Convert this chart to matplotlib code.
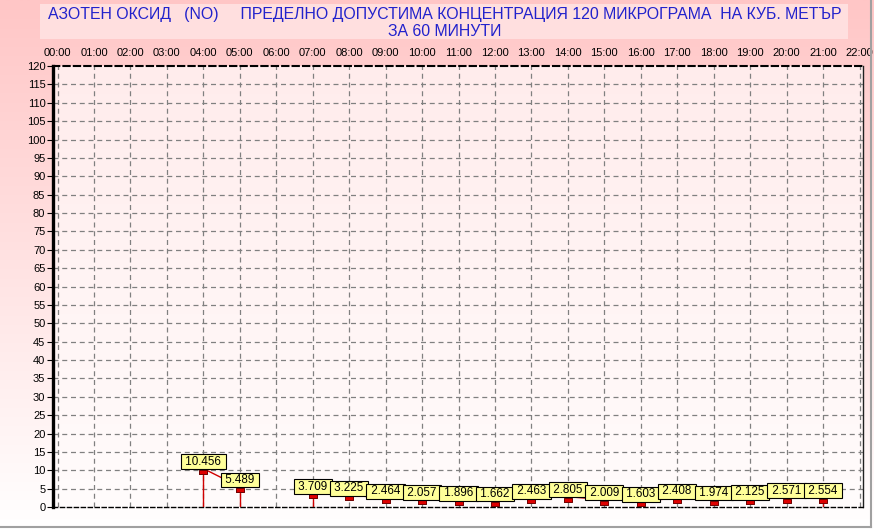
import numpy as np
import matplotlib
matplotlib.use("Agg")
import matplotlib.pyplot as plt
from matplotlib.patches import Rectangle
from matplotlib.lines import Line2D

plt.rcParams['font.family'] = ['Liberation Sans', 'DejaVu Sans']

# ---- data ----
hour_labels = ["00:00", "01:00", "02:00", "03:00", "04:00", "05:00", "06:00", "07:00",
               "08:00", "09:00", "10:00", "11:00", "12:00", "13:00", "14:00", "15:00",
               "16:00", "17:00", "18:00", "19:00", "20:00", "21:00", "22:00"]
hours = [4, 5, 6, 7, 8, 9, 10, 11, 12, 13, 14, 15, 16, 17, 18, 19, 20, 21]
values = [10.456, 5.489, None, 3.709, 3.225, 2.464, 2.057, 1.896, 1.662, 2.463,
          2.805, 2.009, 1.603, 2.408, 1.974, 2.125, 2.571, 2.554]
y_ticks = list(range(0, 121, 5))
title1 = "АЗОТЕН ОКСИД   (NO)     ПРЕДЕЛНО ДОПУСТИМА КОНЦЕНТРАЦИЯ 120 МИКРОГРАМА  НА КУБ. МЕТЪР"
title2 = "ЗА 60 МИНУТИ"

W, H = 874, 529
fig = plt.figure(figsize=(W / 100, H / 100), dpi=100)

# figure background gradient
bg = fig.add_axes([0, 0, 1, 1], zorder=-10)
grad = np.linspace(0, 1, 256).reshape(-1, 1)
top = np.array([255, 198, 198]) / 255
bot = np.array([255, 255, 255]) / 255
img = top[None, None, :] * (1 - grad[..., None]) + bot[None, None, :] * grad[..., None]
bg.imshow(img, aspect='auto', extent=[0, 1, 0, 1], origin='upper')
bg.set_xlim(0, 1); bg.set_ylim(0, 1)
bg.axis('off')

# title box
fig.patches.append(Rectangle((40 / W, 1 - 39 / H), 808 / W, 35 / H, transform=fig.transFigure,
                             facecolor=(1, 0.875, 0.875), edgecolor='none', zorder=-5))
tcol = '#2222CC'
fig.text(444.5 / W, 1 - 19.5 / H, title1, ha='center', va='baseline', color=tcol,
         fontsize=11.4)
fig.text(445 / W, 1 - 36 / H, title2, ha='center', va='baseline', color=tcol,
         fontsize=11.4)

# border lines
fig.lines.append(Line2D([871 / W, 871 / W], [1 - 527 / H, 1], transform=fig.transFigure,
                        color='#A0A0A0', lw=1.5))
fig.lines.append(Line2D([0, 871 / W], [1 - 527 / H, 1 - 527 / H], transform=fig.transFigure,
                        color='#A0A0A0', lw=1.5))

# main axes
x0, x1, ytop, ybot = 53, 863, 66, 507
ax = fig.add_axes([x0 / W, 1 - ybot / H, (x1 - x0) / W, (ybot - ytop) / H])
ax.patch.set_alpha(0)
pxh = (859.5 - 57.5) / 22
xmin = (x0 - 57.5) / pxh
xmax = 22 + (x1 - 859.5) / pxh

# plot-area gradient
ptop = np.array([255, 236, 236]) / 255
pbot = np.array([255, 252, 252]) / 255
pimg = ptop[None, None, :] * (1 - grad[..., None]) + pbot[None, None, :] * grad[..., None]
ax.imshow(pimg, aspect='auto', extent=[xmin, xmax, 0, 120], origin='upper', zorder=0)

ax.set_xlim(xmin, xmax)
ax.set_ylim(0, 120)

# grid
for h in range(len(hour_labels)):
    ax.axvline(h, color='#808080', lw=0.9, ls=(0, (4, 3)), zorder=1)
for yv in y_ticks[1:-1]:
    ax.axhline(yv, color='#808080', lw=0.9, ls=(0, (4, 3)), zorder=1)

# spines
ax.spines['left'].set_linewidth(2.4)
ax.spines['left'].set_color('black')
ax.spines['top'].set_linestyle((0, (3, 2)))
ax.spines['top'].set_linewidth(1.5)
ax.spines['bottom'].set_linestyle((0, (3, 2)))
ax.spines['bottom'].set_linewidth(1.0)
ax.spines['right'].set_linewidth(1.0)
ax.spines['right'].set_color('#202020')

ax.set_yticks(y_ticks)
ax.set_yticklabels([str(v) for v in y_ticks], fontsize=8)
ax.tick_params(axis='y', direction='out', length=4.5, width=0.8, pad=1)
ax.set_xticks(range(len(hour_labels)))
ax.set_xticklabels(hour_labels, fontsize=8)
ax.xaxis.tick_top()
ax.tick_params(axis='x', length=0, pad=6)

red = '#D00000'
# line segments and drop lines
n = len(hours)
for i in range(n):
    v = values[i]
    if v is None:
        continue
    prev_ok = i > 0 and values[i - 1] is not None
    next_ok = i < n - 1 and values[i + 1] is not None
    if next_ok:
        ax.plot([hours[i], hours[i + 1]], [v, values[i + 1]], color=red, lw=1, zorder=3)
    if not prev_ok or not next_ok:
        ax.plot([hours[i], hours[i]], [0, v], color=red, lw=1, zorder=3)

# markers (rectangles, slightly below value)
mk = [(-1, -1.2), (1, -1.2), (1, -0.2), (-1, -0.2), (-1, -1.2)]
vh = [h for h, v in zip(hours, values) if v is not None]
vv = [v for v in values if v is not None]
ax.plot(vh, vv, ls='none', marker=mk, markersize=7, markerfacecolor='#DD0000',
        markeredgecolor='#700000', markeredgewidth=0.7, zorder=4)

# labels
for h, v in zip(vh, vv):
    ax.annotate(f" {v:.3f} ", (h, v), xytext=(0, 0.6), textcoords='offset points',
                ha='center', va='bottom', fontsize=8.4, color='black', zorder=6,
                bbox=dict(boxstyle='square,pad=0.12', facecolor='#FFFF99',
                          edgecolor='black', linewidth=0.8),
                annotation_clip=False)

fig.savefig('out.png', dpi=100)
